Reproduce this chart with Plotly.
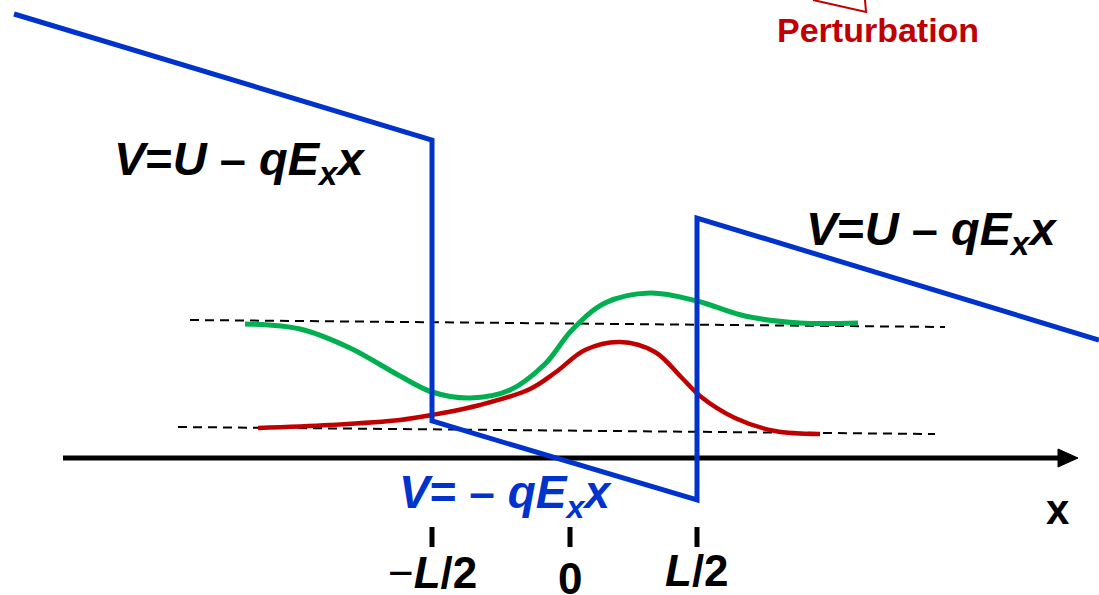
import plotly.graph_objects as go

# Potential profile (blue)
potential_x = [14, 432, 432, 695, 697, 697, 1099]
potential_y = [14, 140, 421, 500, 500, 218, 340]

# Green wave function
green_x = [245, 300, 350, 400, 432, 470, 510, 545, 572, 605, 650, 697, 745, 800, 858]
green_y = [324, 329, 348, 376, 392, 398, 390, 364, 330, 303, 293, 301, 316, 323, 323]

# Red wave function
red_x = [258, 330, 400, 432, 480, 530, 556, 585, 620, 655, 682, 700, 735, 775, 820]
red_y = [428, 425, 420, 415, 405, 389, 372, 350, 342, 352, 378, 396, 418, 431, 434]

# Dashed reference levels
dash_upper_x = [190, 945]
dash_upper_y = [320, 327]
dash_lower_x = [178, 935]
dash_lower_y = [427, 434]

# x axis with arrow
axis_x = [63, 1060]
axis_y = [458, 458]
arrow_x = [1058, 1078, 1058, 1058]
arrow_y = [449, 458, 467, 449]

# tick marks
tick_positions = [432, 570, 697]
tick_top = 527
tick_bottom = 547
tick_labels = ["\u2212<b><i>L</i>/2</b>", "<b>0</b>", "<b><i>L</i>/2</b>"]
tick_label_y = [572, 578, 570]

# perturbation arrow fragment
pert_x = [813, 866, 865]
pert_y = [0, 12, 0]

BLUE = "#0033CC"
GREEN = "#00B050"
RED = "#C00000"
FONT = "Liberation Sans, Arial, sans-serif"

fig = go.Figure()

fig.add_trace(go.Scatter(x=dash_upper_x, y=dash_upper_y, mode="lines",
                         line=dict(color="black", width=2, dash="9px,6px")))
fig.add_trace(go.Scatter(x=dash_lower_x, y=dash_lower_y, mode="lines",
                         line=dict(color="black", width=2, dash="9px,6px")))
fig.add_trace(go.Scatter(x=axis_x, y=axis_y, mode="lines",
                         line=dict(color="black", width=5)))
fig.add_trace(go.Scatter(x=arrow_x, y=arrow_y, mode="lines", fill="toself",
                         fillcolor="black", line=dict(color="black", width=1)))
fig.add_trace(go.Scatter(x=green_x, y=green_y, mode="lines",
                         line=dict(color=GREEN, width=5, shape="spline", smoothing=1.0)))
fig.add_trace(go.Scatter(x=red_x, y=red_y, mode="lines",
                         line=dict(color=RED, width=4.5, shape="spline", smoothing=1.0)))
fig.add_trace(go.Scatter(x=potential_x, y=potential_y, mode="lines",
                         line=dict(color=BLUE, width=5)))
for tx in tick_positions:
    fig.add_trace(go.Scatter(x=[tx, tx], y=[tick_top, tick_bottom], mode="lines",
                             line=dict(color="black", width=5)))
fig.add_trace(go.Scatter(x=pert_x, y=pert_y, mode="lines",
                         line=dict(color=RED, width=2)))

annotations = [
    dict(x=239, y=162, text="<b><i>V</i>=<i>U</i> \u2013 <i>qE<sub>x</sub>x</i></b>",
         font=dict(size=47, color="black", family=FONT)),
    dict(x=931, y=232, text="<b><i>V</i>=<i>U</i> \u2013 <i>qE<sub>x</sub>x</i></b>",
         font=dict(size=47, color="black", family=FONT)),
    dict(x=505, y=495, text="<b><i>V</i>= \u2013 <i>qE<sub>x</sub>x</i></b>",
         font=dict(size=46, color=BLUE, family=FONT)),
    dict(x=1058, y=509, text="<b>x</b>",
         font=dict(size=42, color="black", family=FONT)),
    dict(x=878, y=30, text="<b>Perturbation</b>",
         font=dict(size=34, color=RED, family=FONT)),
]
for tx, lab, ly in zip(tick_positions, tick_labels, tick_label_y):
    annotations.append(dict(x=tx, y=ly, text=lab,
                            font=dict(size=44, color="black", family=FONT)))
for a in annotations:
    a.update(xref="x", yref="y", showarrow=False, xanchor="center", yanchor="middle")

fig.update_layout(
    width=1099, height=595,
    margin=dict(l=0, r=0, t=0, b=0),
    paper_bgcolor="white", plot_bgcolor="white",
    showlegend=False,
    xaxis=dict(range=[0, 1099], visible=False, fixedrange=True),
    yaxis=dict(range=[595, 0], visible=False, fixedrange=True),
    annotations=annotations,
)

fig.write_html("out.html", config={"displayModeBar": False})
